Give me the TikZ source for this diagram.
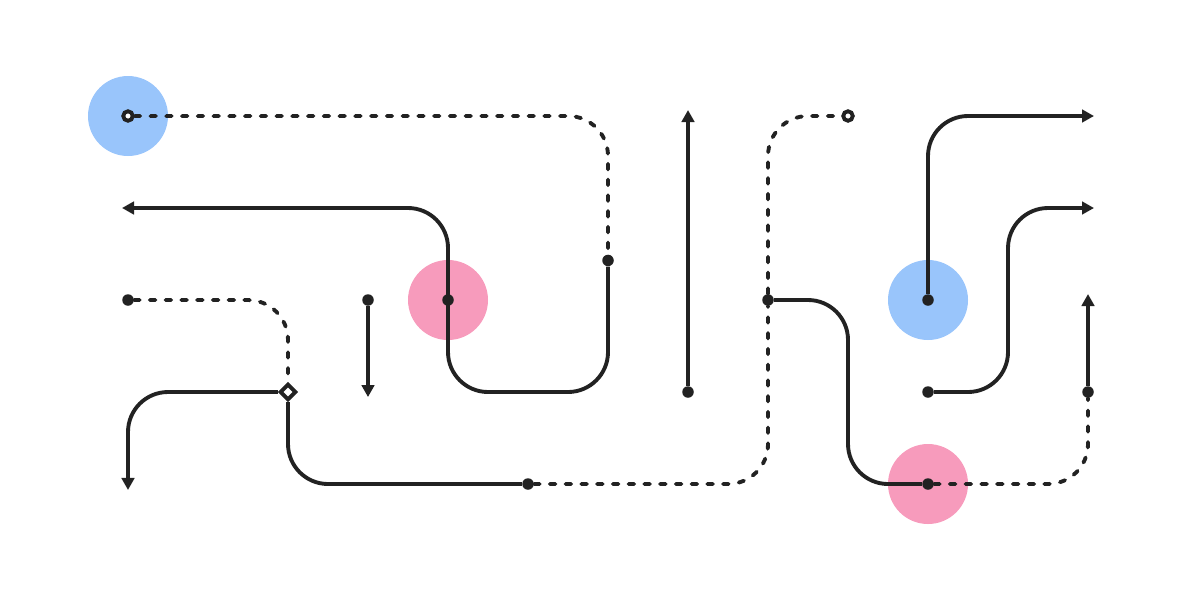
\documentclass[tikz,border=0pt]{standalone}
\usepackage{tikz}
\usetikzlibrary{arrows.meta}
\usetikzlibrary{shapes.geometric}
\definecolor{ink}{HTML}{222222}
\definecolor{sky}{HTML}{99C5FB}
\definecolor{rose}{HTML}{F79BBC}
\def\thickness{2.2pt}
\tikzset{
spot/.style={circle, fill=#1, minimum size=1.6cm, inner sep=0pt},
joint/.style={circle, fill=ink, minimum size=0.23cm, inner sep=0pt},
openend/.style={circle, draw=ink, fill=white, line width=\thickness, minimum size=0.19cm, inner sep=0pt},
gate/.style={diamond, draw=ink, fill=white, line width=\thickness, minimum size=0.33cm, inner sep=0pt, aspect=1},
wire/.style={draw=ink, line width=\thickness, rounded corners=0.8cm},
dotwire/.style={wire, line cap=round, dash pattern=on 0.11cm off 0.205cm},
arrowwire/.style={wire, -{Triangle[length=0.24cm, width=0.25cm]}},
}
\begin{document}
\begin{tikzpicture}[x=1.6cm, y=-1.84cm]
	\useasboundingbox (-2.56cm,2.32cm) rectangle (21.44cm,-9.68cm);
	%
	\node[spot=sky] (sky1) at (0,0) {};
	\node[spot=rose] (rose1) at (4,2) {};
	\node[spot=sky] (sky2) at (10,2) {};
	\node[spot=rose] (rose2) at (10,4) {};
	%
	\node[openend] (in1) at (0,0) {};
	\node[openend] (in2) at (9,0) {};
	\node[joint] (tap) at (6,1.57) {};
	\node[joint] (mid) at (4,2) {};
	\node[joint] (left) at (0,2) {};
	\node[gate] (fork) at (2,3) {};
	\node[joint] (drop) at (3,2) {};
	\node[joint] (rise) at (7,3) {};
	\node[joint] (split) at (5,4) {};
	\node[joint] (hub) at (8,2) {};
	\node[joint] (sink) at (10,4) {};
	\node[joint] (lift) at (12,3) {};
	\node[joint] (core) at (10,2) {};
	\node[joint] (low) at (10,3) {};
	%
	\coordinate (outW) at (-0.075,1);
	\coordinate (outS) at (0,4.065);
	\coordinate (outD) at (3,3.055);
	\coordinate (outU) at (7,-0.065);
	\coordinate (outE1) at (12.075,0);
	\coordinate (outE2) at (12.075,1);
	\coordinate (outN) at (12,1.935);
	%
	\draw[dotwire] (in1) -| (tap);
	\draw[arrowwire] (tap) |- (4,3) -- (mid.center) |- (outW);
	\draw[arrowwire] (drop) -- (outD);
	%
	\draw[dotwire] (left) -| (fork);
	\draw[arrowwire] (fork) -| (outS);
	\draw[wire] (fork) |- (split);
	\draw[dotwire] (split) -| (hub);
	\draw[dotwire] (hub) |- (in2);
	%
	\draw[arrowwire] (rise) -- (outU);
	\draw[wire] (hub) -| (9,4) -- (sink);
	\draw[dotwire] (sink) -| (lift);
	\draw[arrowwire] (lift) -- (outN);
	\draw[arrowwire] (core) |- (outE1);
	\draw[arrowwire] (low) -| (11,1) -- (outE2);
\end{tikzpicture}
\end{document}
